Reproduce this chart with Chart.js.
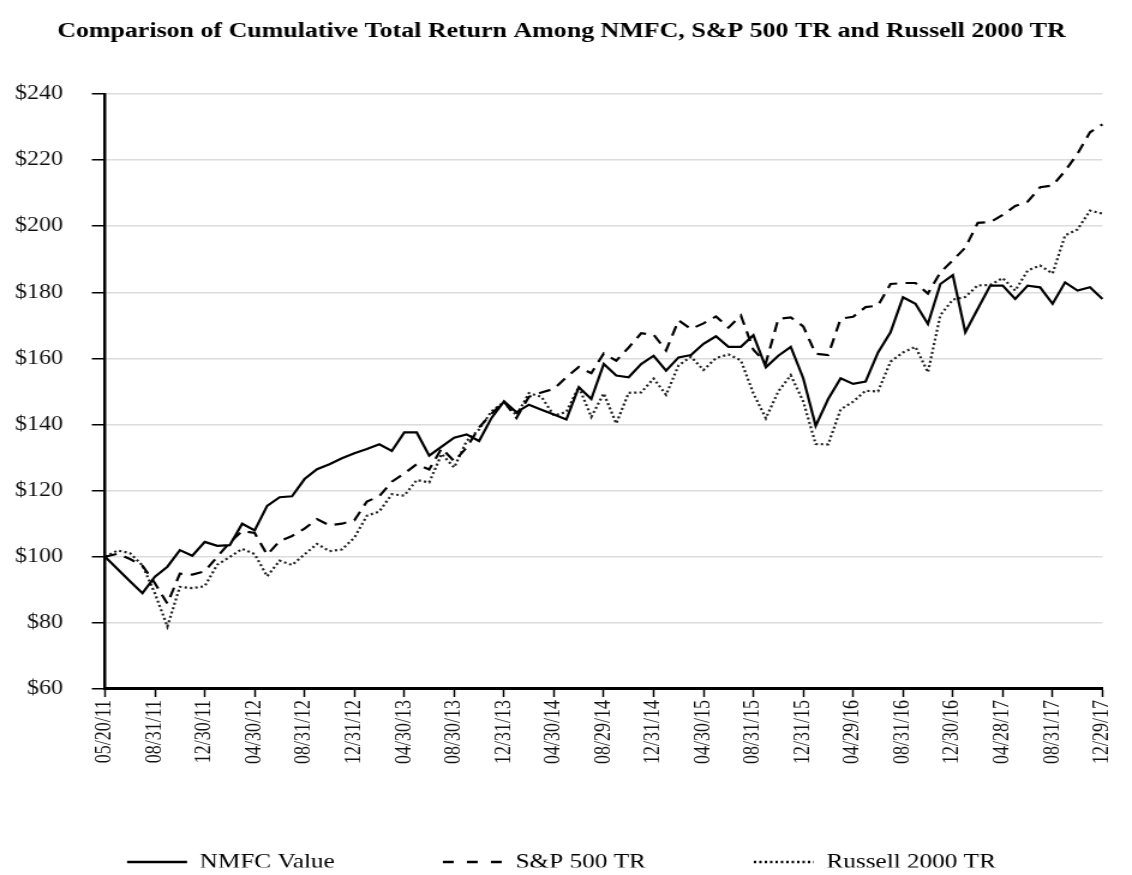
<!DOCTYPE html>
<html>
<head>
<meta charset="utf-8">
<script src="https://cdn.jsdelivr.net/npm/chart.js@4.4.1/dist/chart.umd.min.js"></script>
<style>
  html, body { margin: 0; padding: 0; background: #fff; overflow: hidden; }
  /* the reference is stretched sideways, so the canvas is too */
  #c { display: block; transform: scaleX(1.2004); transform-origin: 0 0; }
</style>
</head>
<body>
<canvas id="c" width="943" height="875"></canvas>
<script>
// month-end dates, one point each
var dates = [
  '05/20/11', '05/31/11', '06/30/11', '07/29/11', '08/31/11', '09/30/11', '10/31/11', '11/30/11', '12/30/11',
  '01/31/12', '02/29/12', '03/30/12', '04/30/12', '05/31/12', '06/29/12', '07/31/12', '08/31/12', '09/28/12', '10/31/12', '11/30/12', '12/31/12',
  '01/31/13', '02/28/13', '03/28/13', '04/30/13', '05/31/13', '06/28/13', '07/31/13', '08/30/13', '09/30/13', '10/31/13', '11/29/13', '12/31/13',
  '01/31/14', '02/28/14', '03/31/14', '04/30/14', '05/30/14', '06/30/14', '07/31/14', '08/29/14', '09/30/14', '10/31/14', '11/28/14', '12/31/14',
  '01/30/15', '02/27/15', '03/31/15', '04/30/15', '05/29/15', '06/30/15', '07/31/15', '08/31/15', '09/30/15', '10/30/15', '11/30/15', '12/31/15',
  '01/29/16', '02/29/16', '03/31/16', '04/29/16', '05/31/16', '06/30/16', '07/29/16', '08/31/16', '09/30/16', '10/31/16', '11/30/16', '12/30/16',
  '01/31/17', '02/28/17', '03/31/17', '04/28/17', '05/31/17', '06/30/17', '07/31/17', '08/31/17', '09/29/17', '10/31/17', '11/30/17', '12/29/17'
];

var nmfc = [
  100, 96.3, 92.6, 89, 94, 97, 102, 100.3, 104.5,
  103.3, 103.5, 110, 108, 115.4, 118, 118.3, 123.5, 126.5, 128, 129.8, 131.3,
  132.6, 134, 132, 137.6, 137.6, 130.6, 133.3, 136, 137, 135, 142, 147,
  143.7, 146, 144.5, 143, 141.5, 151.3, 147.7, 158.3, 154.8, 154.3, 158.3, 160.8,
  156.3, 160.3, 161, 164.4, 166.7, 163.5, 163.5, 167, 157.3, 160.8, 163.5, 154,
  139.6, 147.7, 154, 152.3, 153, 161.8, 167.9, 178.5, 176.5, 170.4, 182.5, 185.2,
  167.9, 175, 182, 182, 178, 182, 181.5, 176.5, 183, 180.5, 181.5, 178
];

var sp500 = [
  100, 100.9, 99.3, 97.3, 92, 85.8, 94.9, 94.6, 95.6,
  100, 104.3, 107.8, 107.2, 100.6, 104.7, 106.3, 108.5, 111.4, 109.5, 110, 111,
  116.7, 118.3, 122.7, 125.2, 128, 126.4, 132.8, 128.9, 133, 139.1, 143.3, 146.9,
  142, 148.4, 149.7, 150.8, 154.3, 157.4, 155.5, 161.5, 159.3, 163.3, 167.6, 167.2,
  162.4, 171.5, 168.9, 170.6, 172.7, 169.3, 173, 162.6, 158.6, 172, 172.4, 169.7,
  161.4, 161, 172, 172.6, 175.5, 176, 182.5, 182.8, 182.8, 179.6, 186, 189.7,
  193.5, 201, 201.2, 203.4, 206.1, 207.4, 211.8, 212.3, 216.7, 221.9, 228.4, 230.8
];

var russell = [
  100, 101.9, 101.1, 97.4, 88.9, 78.9, 90.9, 90.5, 91.1,
  97.6, 99.9, 102.4, 100.8, 94.1, 98.8, 97.5, 100.7, 103.9, 101.7, 102.2, 105.8,
  112.4, 113.7, 118.9, 118.5, 123.2, 122.5, 131.1, 127, 135, 138.5, 144, 146.8,
  142.8, 149.5, 148.4, 142.7, 143.8, 151.4, 142.3, 149.4, 140.3, 149.6, 149.7, 153.9,
  149, 157.9, 160.5, 156.5, 160.1, 161.2, 159.4, 149.4, 141.9, 150, 154.9, 147,
  134.1, 134, 144.6, 146.9, 150.2, 150, 159, 161.8, 163.5, 155.8, 173.1, 177.8,
  178.6, 182.1, 182.2, 184.3, 180.5, 186.6, 188.1, 185.7, 197.2, 199, 204.7, 203.8
];

var seriesNames = ['NMFC Value', 'S&P 500 TR', 'Russell 2000 TR'];
var titleText = 'Comparison of Cumulative Total Return Among NMFC, S&P 500 TR and Russell 2000 TR';

var serif = '"Liberation Serif", "Times New Roman", serif';

// legend sample dashes are a bit longer-spaced than in the plot
var legendDash = [[], [9, 11], [2, 2.5]];

// legend sits lower than chart.js wants to put it
var legendNudge = {
  id: 'legendNudge',
  afterLayout: function (chart) {
    chart.legend.top -= 7.5;
    chart.legend.bottom -= 7.5;
  }
};

var ctx = document.getElementById('c');
var chart = new Chart(ctx, {
  type: 'line',
  data: {
    labels: dates,
    datasets: [
      { label: seriesNames[0], data: nmfc, borderColor: '#000', borderWidth: 2.2 },
      { label: seriesNames[1], data: sp500, borderColor: '#000', borderWidth: 2.2, borderDash: [10, 7] },
      { label: seriesNames[2], data: russell, borderColor: '#222', borderWidth: 2.2, borderDash: [2, 2.5] }
    ]
  },
  plugins: [legendNudge],
  options: {
    responsive: false,
    animation: false,
    elements: {
      point: { radius: 0, hoverRadius: 0 },
      line: { tension: 0, fill: false }
    },
    layout: { padding: { left: 0, right: 7.5, top: 0, bottom: 0 } },
    plugins: {
      title: {
        display: true,
        text: titleText,
        color: '#000',
        font: { family: serif, size: 21.6, weight: 'bold' },
        padding: { top: 18, bottom: 50 }
      },
      legend: {
        position: 'bottom',
        maxHeight: 106,
        labels: {
          usePointStyle: true,
          pointStyle: 'line',
          pointStyleWidth: 50,
          padding: 90,
          color: '#000',
          font: { family: serif, size: 21 },
          generateLabels: function (chart) {
            // keep each dataset's dash pattern in the legend sample
            var items = Chart.defaults.plugins.legend.labels.generateLabels(chart);
            items.forEach(function (it) {
              it.lineDash = legendDash[it.datasetIndex];
              it.lineWidth = 2.5;
              it.strokeStyle = '#000';
            });
            return items;
          }
        }
      },
      tooltip: { enabled: false }
    },
    scales: {
      x: {
        ticks: {
          autoSkip: false,
          minRotation: 90,
          maxRotation: 90,
          padding: 3,
          color: '#111',
          font: { family: serif, size: 18 },
          callback: function (val, i) {
            // label only every fourth month, like the original
            return i % 4 === 0 ? dates[i] : null;
          }
        },
        grid: {
          drawOnChartArea: false,
          drawTicks: true,
          tickLength: 8,
          tickColor: '#000',
          tickWidth: 1.5
        },
        border: { display: true, color: '#000', width: 3 },
        afterFit: function (scale) { scale.height = 80; }
      },
      y: {
        min: 60,
        max: 240,
        ticks: {
          stepSize: 20,
          padding: 24,
          color: '#111',
          font: { family: serif, size: 20 },
          callback: function (v) { return '$' + v; }
        },
        grid: {
          color: '#dcdcdc',
          lineWidth: 1.5,
          tickLength: 11,
          tickColor: '#000',
          tickWidth: 1.5
        },
        border: { display: true, color: '#000', width: 2.5 },
        afterFit: function (scale) { scale.width = 87.5; }
      }
    }
  }
});
</script>
</body>
</html>
